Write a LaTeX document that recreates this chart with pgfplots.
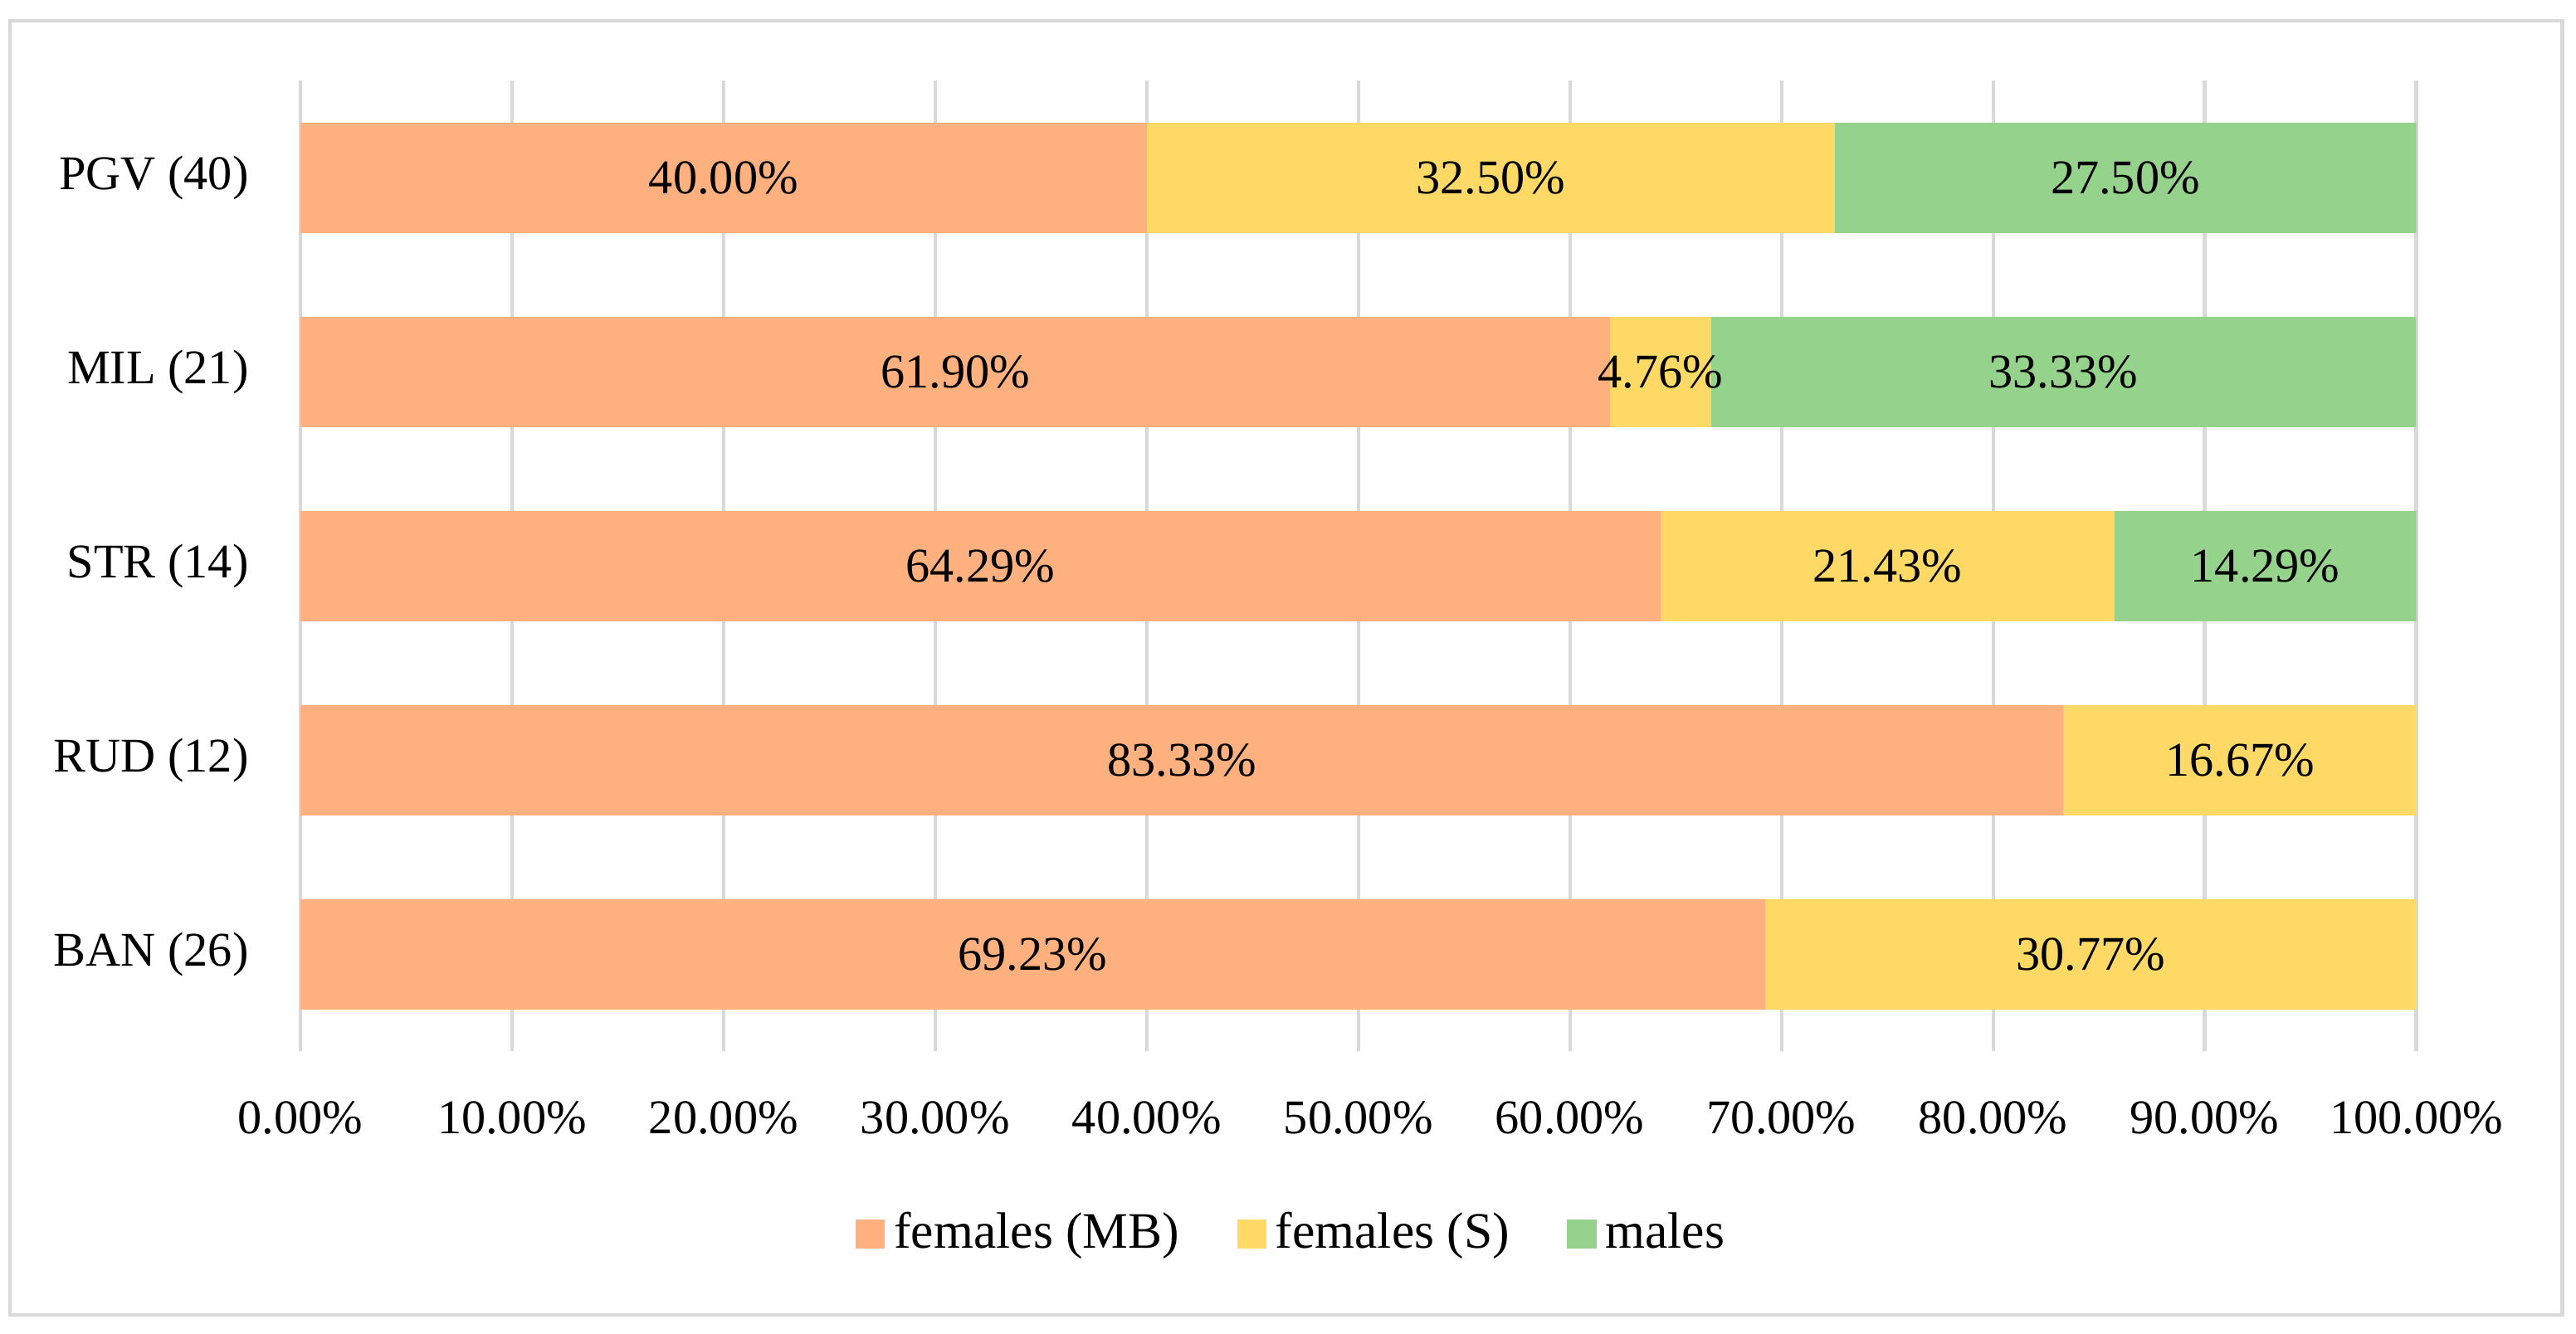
\documentclass[border=0pt]{standalone}
\usepackage{fontspec}
\setmainfont{Liberation Serif}
\usepackage{pgfplots}
\pgfplotsset{compat=1.18}
\usepackage{pgfplotstable}

\definecolor{cMB}{HTML}{FFB07F}
\definecolor{cS}{HTML}{FFD966}
\definecolor{cM}{HTML}{95D38C}
\definecolor{gridgray}{HTML}{D9D9D9}

% y: 0 = BAN ... 4 = PGV
\pgfplotstableread{
y mb s m mbl sl ml
0 69.23 30.77 0 69.23\% 30.77\% {}
1 83.33 16.67 0 83.33\% 16.67\% {}
2 64.29 21.43 14.29 64.29\% 21.43\% 14.29\%
3 61.90 4.76 33.33 61.90\% 4.76\% 33.33\%
4 40.00 32.50 27.50 40.00\% 32.50\% 27.50\%
}\data

\newcommand\chartfont{\fontsize{10.6}{12.7}\selectfont}
\newcommand\legfont{\fontsize{11.2}{13.4}\selectfont}

\pgfplotsset{
  frame/.style={
    at={(0,0)}, anchor=south west,
    scale only axis,
    width=463.5pt, height=212.7pt,
    xmin=0, xmax=100, ymin=-0.5, ymax=4.5,
  },
}

\begin{document}
\begin{tikzpicture}
\begin{axis}[
  frame,
  xbar stacked, bar width=24.2pt,
  xtick={0,10,...,100},
  ytick={0,...,4},
  yticklabels={BAN (26),RUD (12),STR (14),MIL (21),PGV (40)},
  /pgf/number format/assume math mode=true,
  xticklabel={\pgfmathprintnumber[fixed,fixed zerofill,precision=2]{\tick}\%},
  xmajorgrids, grid style={gridgray, line width=0.75pt},
  axis line style={draw=none},
  major tick length=0pt,
  tick label style={font=\chartfont, text=black},
  xticklabel style={yshift=-7.5pt},
  yticklabel style={xshift=-7.8pt},
  legend style={at={(0.470,-0.188)}, anchor=center, legend columns=-1, draw=none,
    font=\legfont, /tikz/every even column/.append style={column sep=10.6pt}},
  legend image code/.code={\fill[#1] (0pt,-3.2pt) rectangle (6.4pt,3.2pt);},
]
\addplot[fill=cMB, draw=none] table[x=mb, y=y]{\data};
\addlegendentry{females (MB)}
\addplot[fill=cS, draw=none] table[x=s, y=y]{\data};
\addlegendentry{females (S)}
\addplot[fill=cM, draw=none] table[x=m, y=y]{\data};
\addlegendentry{males}
\end{axis}
% segment labels, centred in each segment, drawn over all bars
\begin{axis}[
  frame, hide axis,
  point meta=explicit symbolic,
  nodes near coords={\pgfplotspointmeta},
  every node near coord/.append style={anchor=center, font=\chartfont, text=black},
]
\addplot[draw=none] table[x expr=\thisrow{mb}/2, y=y, meta=mbl]{\data};
\addplot[draw=none] table[x expr=\thisrow{mb}+\thisrow{s}/2, y=y, meta=sl]{\data};
\addplot[draw=none] table[x expr=\thisrow{mb}+\thisrow{s}+\thisrow{m}/2, y=y, meta=ml]{\data};
\end{axis}
\draw[gridgray, line width=0.75pt] (-63.6pt,-57.8pt) rectangle (495.5pt,225.8pt);
\path (-65.8pt,-61.8pt) rectangle (498.5pt,230.4pt);
\end{tikzpicture}
\end{document}
